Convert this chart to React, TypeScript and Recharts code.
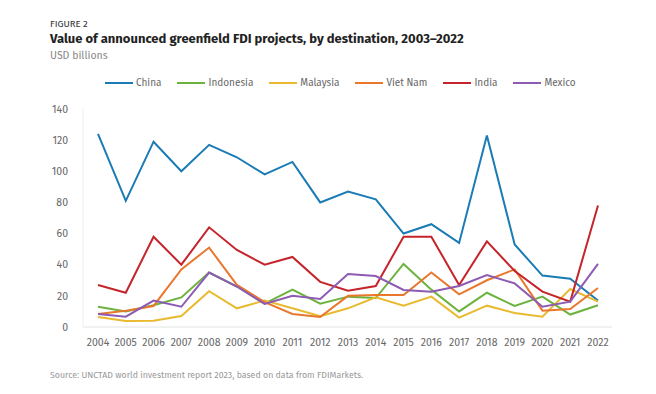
import { LineChart, Line, XAxis, YAxis } from "recharts";

const years = [
  "2004", "2005", "2006", "2007", "2008", "2009", "2010", "2011", "2012", "2013",
  "2014", "2015", "2016", "2017", "2018", "2019", "2020", "2021", "2022",
];
const china = [124, 81, 119, 100, 117, 109, 98, 106, 80, 87, 82, 60, 66, 54, 123, 53, 33, 31, 17];
const indonesia = [13, 10, 14, 19, 35, 26, 15, 24, 15, 19.5, 18.6, 40.5, 24, 10, 22, 13.5, 19.5, 8, 14];
const malaysia = [6.4, 3.8, 4, 7, 23, 12, 17, 12, 7, 12, 19, 13.7, 19.5, 6, 13.7, 9, 6.6, 24.4, 16.3];
const vietNam = [8.4, 10.5, 13.5, 37, 51, 27, 16, 8.4, 6.4, 20, 20.5, 20.5, 35, 21, 30, 37, 10.5, 11.5, 25];
const india = [27, 22, 58, 40, 64, 49.5, 40, 45, 29, 23.3, 26.3, 58, 58, 27, 55, 36, 22.7, 16.3, 78];
const mexico = [8.4, 6.6, 17, 13, 35, 26, 14.8, 20, 18, 34, 32.7, 23.8, 22.7, 26.3, 33.4, 28, 13, 16.3, 40.5];
const yTicks = [0, 20, 40, 60, 80, 100, 120, 140];

const series = [
  { key: "China", values: china, color: "#1b7bb5" },
  { key: "Indonesia", values: indonesia, color: "#6cb33e" },
  { key: "Malaysia", values: malaysia, color: "#e9ba2f" },
  { key: "Viet Nam", values: vietNam, color: "#e9782d" },
  { key: "India", values: india, color: "#c5242b" },
  { key: "Mexico", values: mexico, color: "#8d5bb3" },
];

const data = years.map((year, i) => {
  const row: Record<string, string | number> = { year };
  series.forEach((s) => (row[s.key] = s.values[i]));
  return row;
});

const font = "'Fira Sans', Lato, 'Noto Sans', sans-serif";

function LegendRow() {
  return (
    <div
      style={{
        position: "absolute",
        left: 105,
        top: 77,
        display: "flex",
        gap: 16,
        fontSize: 10,
        color: "#666",
      }}
    >
      {series.map((s) => (
        <div key={s.key} style={{ display: "flex", alignItems: "center" }}>
          <span style={{ display: "inline-block", width: 28, height: 2.5, background: s.color, marginRight: 3 }} />
          <span>{s.key}</span>
        </div>
      ))}
    </div>
  );
}

export default function App() {
  return (
    <div style={{ position: "absolute", left: 0, top: 0, width: 656, height: 394, background: "#fff", fontFamily: font }}>
      <div style={{ position: "absolute", left: 50, top: 18, fontSize: 9.5, color: "#333" }}>FIGURE 2</div>
      <div style={{ position: "absolute", left: 50, top: 31, fontSize: 13, fontWeight: 700, color: "#222" }}>
        Value of announced greenfield FDI projects, by destination, 2003–2022
      </div>
      <div style={{ position: "absolute", left: 50, top: 49, fontSize: 10.5, color: "#888" }}>USD billions</div>
      <LegendRow />
      <LineChart width={656} height={394} data={data} margin={{ top: 109, right: 44, bottom: 37, left: 0 }}>
        <XAxis
          dataKey="year"
          padding={{ left: 15, right: 14 }}
          tickLine={false}
          axisLine={{ stroke: "#e2e2e2" }}
          tick={{ fontSize: 10.5, fill: "#666", fontFamily: font }}
          tickMargin={6}
          height={30}
          interval={0}
        />
        <YAxis
          domain={[0, 140]}
          ticks={yTicks}
          width={83}
          tickLine={false}
          axisLine={{ stroke: "#eeeeee" }}
          tick={{ fontSize: 10.5, fill: "#666", fontFamily: font }}
          tickMargin={9}
        />
        {series.map((s) => (
          <Line
            key={s.key}
            dataKey={s.key}
            stroke={s.color}
            strokeWidth={2}
            dot={false}
            type="linear"
            isAnimationActive={false}
          />
        ))}
      </LineChart>
      <div style={{ position: "absolute", left: 50, top: 370, fontSize: 8.8, color: "#999" }}>
        Source: UNCTAD world investment report 2023, based on data from FDIMarkets.
      </div>
    </div>
  );
}
